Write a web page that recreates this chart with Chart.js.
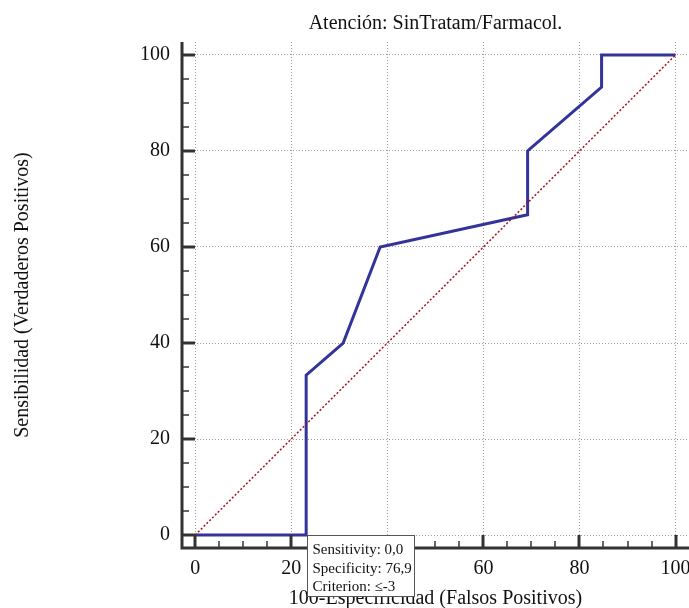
<!DOCTYPE html>
<html>
<head>
<meta charset="utf-8">
<script src="https://cdn.jsdelivr.net/npm/chart.js@4.4.0/dist/chart.umd.min.js"></script>
<style>
  html, body { margin: 0; padding: 0; background: #fff; }
</style>
</head>
<body>
<canvas id="rocChart" width="689" height="608"></canvas>
<script>
// Curva ROC: 100-Especificidad (x) frente a Sensibilidad (y)
const fpr = [0, 23.1, 23.1, 30.8, 38.5, 69.2, 69.2, 84.6, 84.6, 100];
const tpr = [0, 0, 33.3, 40, 60, 66.7, 80, 93.3, 100, 100];
const diagX = [0, 100];
const diagY = [0, 100];
const tickValues = [0, 20, 40, 60, 80, 100];
const minorStep = 5;
// punto marcado con la caja de información
const tooltipIndex = 1;
const tooltipLines = ['Sensitivity: 0,0', 'Specificity: 76,9', 'Criterion: \u2264-3'];

const serif = 'Liberation Serif, Times New Roman, serif';
const minorTicks = [];
for (let v = tickValues[0]; v <= tickValues[tickValues.length - 1]; v += minorStep) minorTicks.push(v);

const gridColor = ctx => (ctx.tick && tickValues.includes(ctx.tick.value)) ? '#9a9a9a' : 'rgba(0,0,0,0)';

// ejes con marcas hacia dentro
const axesPlugin = {
  id: 'axes',
  afterDraw(chart) {
    const { ctx, chartArea: a, scales: { x, y } } = chart;
    ctx.save();
    ctx.strokeStyle = '#333';
    x.ticks.forEach(t => {
      const major = tickValues.includes(t.value);
      const px = Math.round(x.getPixelForValue(t.value));
      ctx.lineWidth = major ? 3 : 1.5;
      ctx.beginPath();
      ctx.moveTo(px, a.bottom);
      ctx.lineTo(px, a.bottom - (major ? 13 : 7));
      ctx.stroke();
    });
    y.ticks.forEach(t => {
      const major = tickValues.includes(t.value);
      const py = Math.round(y.getPixelForValue(t.value));
      ctx.lineWidth = major ? 3 : 1.5;
      ctx.beginPath();
      ctx.moveTo(a.left, py);
      ctx.lineTo(a.left + (major ? 13 : 7), py);
      ctx.stroke();
    });
    ctx.lineWidth = 3;
    ctx.beginPath();
    ctx.moveTo(a.left, a.top);
    ctx.lineTo(a.left, a.bottom);
    ctx.lineTo(a.right, a.bottom);
    ctx.stroke();
    ctx.restore();
  }
};

// caja fija junto al punto de corte
const infoBoxPlugin = {
  id: 'infoBox',
  afterDraw(chart) {
    const { ctx, scales: { x, y } } = chart;
    const bx = Math.round(x.getPixelForValue(fpr[tooltipIndex])) + 1.5;
    const by = Math.round(y.getPixelForValue(tpr[tooltipIndex])) + 0.5;
    const w = 107, h = 61;
    ctx.save();
    ctx.fillStyle = '#fff';
    ctx.fillRect(bx, by, w, h);
    ctx.strokeStyle = '#555';
    ctx.lineWidth = 1;
    ctx.strokeRect(bx, by, w, h);
    ctx.fillStyle = '#111';
    ctx.font = '15px ' + serif;
    ctx.textBaseline = 'middle';
    tooltipLines.forEach((line, i) => ctx.fillText(line, bx + 5, by + 15 + i * 18.5));
    ctx.restore();
  }
};

new Chart(document.getElementById('rocChart'), {
  type: 'scatter',
  data: {
    datasets: [
      {
        data: diagX.map((v, i) => ({ x: v, y: diagY[i] })),
        showLine: true,
        borderColor: '#a3141e',
        borderWidth: 1.5,
        borderDash: [2, 2],
        pointRadius: 0,
      },
      {
        data: fpr.map((v, i) => ({ x: v, y: tpr[i] })),
        showLine: true,
        borderColor: '#333399',
        borderWidth: 3,
        pointRadius: 0,
        tension: 0,
      },
    ],
  },
  options: {
    responsive: false,
    animation: false,
    events: [],
    layout: { padding: 0 },
    plugins: {
      legend: { display: false },
      tooltip: { enabled: false },
      title: {
        display: true,
        text: 'Atención: SinTratam/Farmacol.',
        fullSize: false,
        color: '#111',
        font: { family: serif, size: 20, weight: 'normal' },
        padding: { top: 12, bottom: 6 },
      },
    },
    scales: {
      x: {
        type: 'linear',
        min: -2.75,
        max: 102.8,
        afterBuildTicks: s => { s.ticks = minorTicks.map(v => ({ value: v })); },
        afterFit: s => { s.height = 60; s.paddingLeft = 0; s.paddingRight = 0; },
        ticks: {
          autoSkip: false,
          maxRotation: 0,
          padding: 9,
          color: '#111',
          font: { family: serif, size: 20 },
          callback: v => tickValues.includes(v) ? String(v) : '',
        },
        grid: { drawTicks: false, color: gridColor, lineWidth: 1 },
        border: { display: false, dash: [1, 2] },
        title: {
          display: true,
          text: '100-Especificidad (Falsos Positivos)',
          color: '#111',
          font: { family: serif, size: 20 },
          padding: { top: 0, bottom: -3 },
        },
      },
      y: {
        type: 'linear',
        min: -2.7,
        max: 102.7,
        afterBuildTicks: s => { s.ticks = minorTicks.map(v => ({ value: v })); },
        afterFit: s => { s.width = 182; s.paddingTop = 0; s.paddingBottom = 0; },
        ticks: {
          autoSkip: false,
          padding: 12,
          color: '#111',
          font: { family: serif, size: 20 },
          callback: v => tickValues.includes(v) ? String(v) : '',
        },
        grid: { drawTicks: false, color: gridColor, lineWidth: 1 },
        border: { display: false, dash: [1, 2] },
        title: {
          display: true,
          text: 'Sensibilidad (Verdaderos Positivos)',
          color: '#111',
          font: { family: serif, size: 20 },
          padding: { top: 11, bottom: 0 },
        },
      },
    },
  },
  plugins: [axesPlugin, infoBoxPlugin],
});
</script>
</body>
</html>
